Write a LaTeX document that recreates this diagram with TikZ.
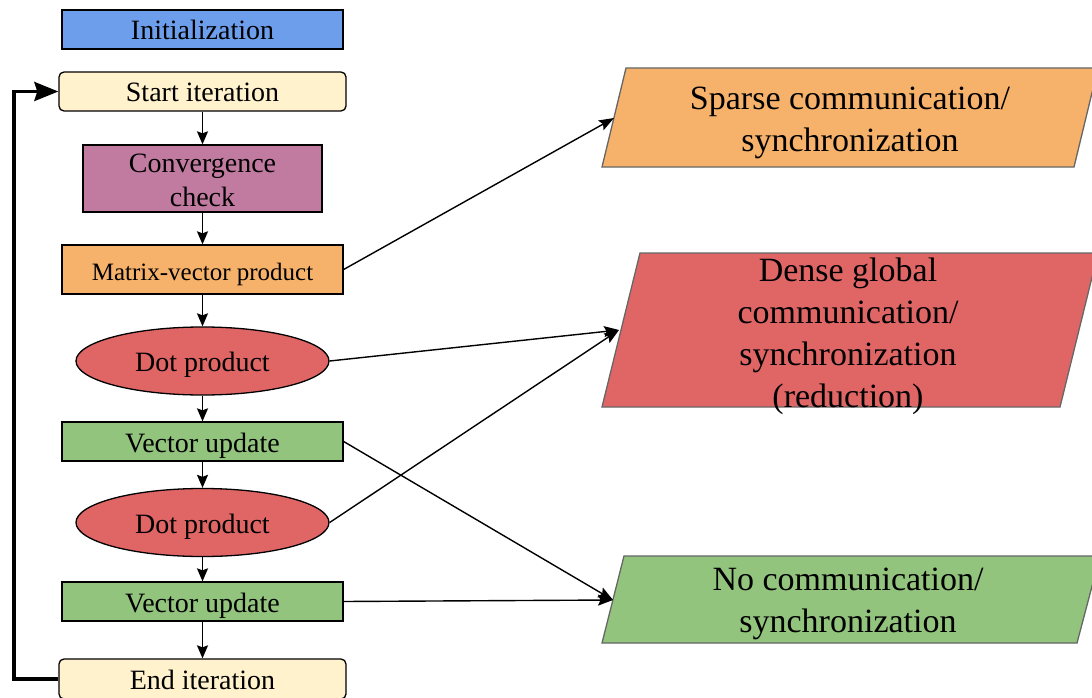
\documentclass[tikz,border=0pt]{standalone}
\usepackage{fontspec}
\setmainfont{Liberation Serif}
\usetikzlibrary{shapes.geometric,arrows.meta}

\definecolor{initblue}{HTML}{6D9EEB}
\definecolor{iterbeige}{HTML}{FFF2CC}
\definecolor{checkpurple}{HTML}{C27BA0}
\definecolor{sparseorange}{HTML}{F6B26B}
\definecolor{densered}{HTML}{E06666}
\definecolor{nocommgreen}{HTML}{93C47D}
\definecolor{edgegray}{HTML}{666666}

\begin{document}
\begin{tikzpicture}[x=1pt, y=-1pt,
    box/.style={draw=black, line width=1.3pt, inner sep=0pt, minimum width=281pt,
                minimum height=39pt, align=center, text height=23pt, text depth=2pt,
                font=\fontsize{28}{34}\selectfont},
    iterbox/.style={box, fill=iterbeige, rounded corners=5pt, minimum width=287pt},
    dotbox/.style={box, ellipse, fill=densered, minimum width=253pt, minimum height=68pt},
    commbox/.style={draw=edgegray, line width=1.3pt},
    commtext/.style={align=center, font=\fontsize{34}{42}\selectfont},
    flow/.style={-{Stealth[length=13pt,width=11pt,inset=2pt]}, line width=1.5pt},
    link/.style={-{Stealth[length=15pt,width=11pt,inset=2.5pt]}, line width=1.4pt},
    backloop/.style={-{Stealth[length=24pt,width=19pt,inset=3pt]}, line width=3.5pt}]
  \useasboundingbox (0,0) rectangle (1092,698);

  % left column
  \node[box, fill=initblue] (init) at (202.5, 29.5) {Initialization};
  \node[iterbox] (start) at (202.5, 91.5) {Start iteration};
  \node[box, fill=checkpurple, minimum width=239pt, minimum height=67pt, text height=57pt] (conv) at (202.5, 178.5) {Convergence\\check};
  \node[box, fill=sparseorange, minimum height=49pt, font=\fontsize{25}{30}\selectfont] (matvec) at (202.5, 269.5) {Matrix-vector product};
  \node[dotbox] (dot1) at (202.5, 361) {Dot product};
  \node[box, fill=nocommgreen] (vec1) at (202.5, 441.5) {Vector update};
  \node[dotbox] (dot2) at (202.5, 522.5) {Dot product};
  \node[box, fill=nocommgreen] (vec2) at (202.5, 601.5) {Vector update};
  \node[iterbox, minimum height=40pt] (stop) at (202.5, 679) {End iteration};

  \draw[flow] (start) -- (conv);
  \draw[flow] (conv) -- (matvec);
  \draw[flow] (matvec) -- (dot1);
  \draw[flow] (dot1) -- (vec1);
  \draw[flow] (vec1) -- (dot2);
  \draw[flow] (dot2) -- (vec2);
  \draw[flow] (vec2) -- (stop);

  \coordinate (back) at (14, 679);
  \draw[backloop] (stop.west) -- (back) |- (start.west);

  % right column
  \filldraw[commbox, fill=sparseorange] (602,167) -- (626,68) -- (1098,68) -- (1074,167) -- cycle;
  \filldraw[commbox, fill=densered] (602,407) -- (640,253) -- (1098,253) -- (1060,407) -- cycle;
  \filldraw[commbox, fill=nocommgreen] (602,643) -- (624,556) -- (1100,556) -- (1077,643) -- cycle;

  \node[commtext] (sparse) at (850, 123) {Sparse communication/\\synchronization};
  \node[commtext] (dense) at (848, 336) {Dense global\\communication/\\synchronization\\(reduction)};
  \node[commtext] (nocomm) at (848, 604) {No communication/\\synchronization};

  \coordinate (sparsein) at (614, 118);
  \coordinate (densein) at (619, 330);
  \coordinate (nocommin) at (613, 600);

  \draw[link] (matvec.east) -- (sparsein);
  \draw[link] (dot1.east) -- (densein);
  \draw[link] (dot2.east) -- (densein);
  \draw[link] (vec1.east) -- (nocommin);
  \draw[link] (vec2.east) -- (nocommin);
\end{tikzpicture}
\end{document}
